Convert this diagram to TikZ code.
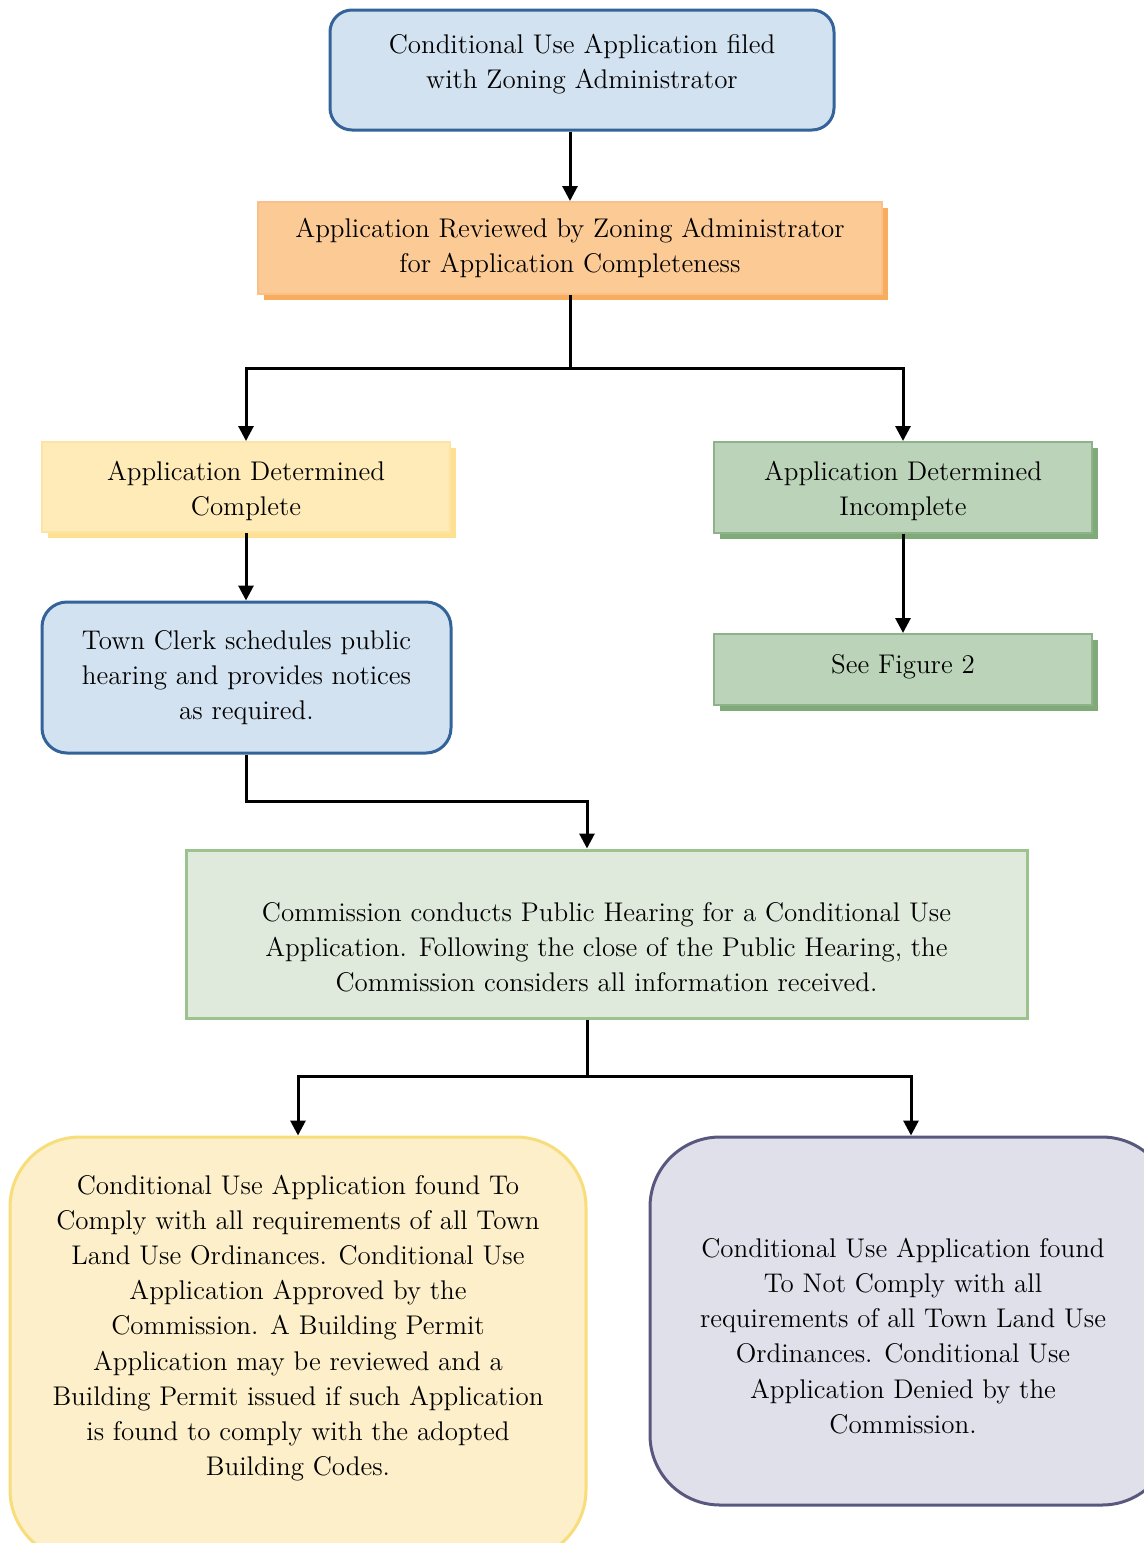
\documentclass[tikz,border=0pt]{standalone}
\usepackage{fontspec}
\usetikzlibrary{arrows.meta,shadows}
\definecolor{bluefill}{HTML}{D3E2F1}
\definecolor{blueline}{HTML}{34639A}
\definecolor{orfill}{HTML}{FCCA95}
\definecolor{orline}{HTML}{FAC08A}
\definecolor{orshadow}{HTML}{F8AD5C}
\definecolor{yefill}{HTML}{FFEBB7}
\definecolor{yeline}{HTML}{FDE4A2}
\definecolor{yeshadow}{HTML}{FDE092}
\definecolor{grfill}{HTML}{BBD3B8}
\definecolor{grline}{HTML}{8EB38A}
\definecolor{grshadow}{HTML}{80AB79}
\definecolor{lgfill}{HTML}{E0EADC}
\definecolor{lgline}{HTML}{9CC38F}
\definecolor{bigyefill}{HTML}{FCEFC9}
\definecolor{bigyeline}{HTML}{F8DD7B}
\definecolor{lavfill}{HTML}{E0E0EB}
\definecolor{lavline}{HTML}{58587F}
\begin{document}
\begin{tikzpicture}[x=0.5pt,y=-0.5pt,
  every node/.style={font=\fontsize{13.5}{17.6}\selectfont, align=center, inner sep=0pt},
  conn/.style={line width=1.5pt, black},
  arr/.style={conn, -{Triangle[width=7.5pt,length=7.5pt]}},
  roundblue/.style={draw=blueline, fill=bluefill, line width=1.5pt, rounded corners=11pt},
  shadowbox/.style={line width=1pt, drop shadow={shadow xshift=2.8pt, shadow yshift=-2.8pt, opacity=1, fill=#1}},
  orbox/.style={shadowbox=orshadow, draw=orline, fill=orfill},
  yebox/.style={shadowbox=yeshadow, draw=yeline, fill=yefill},
  grbox/.style={shadowbox=grshadow, draw=grline, fill=grfill},
  lgbox/.style={draw=lgline, fill=lgfill, line width=1.5pt},
  bigye/.style={draw=bigyeline, fill=bigyefill, line width=1.5pt, rounded corners=35pt},
  lav/.style={draw=lavline, fill=lavfill, line width=1.5pt, rounded corners=35pt}
]
\useasboundingbox (0,0) rectangle (1144,1543);
\clip (0,0) rectangle (1144,1543);

\node[roundblue, minimum width=252pt, minimum height=60pt] (b1) at (582,70) {};
\node (t1) at (582,64) {Conditional Use Application filed\\with Zoning Administrator};
\node[orbox, minimum width=312pt, minimum height=46pt] (b2) at (570,248)
  {Application Reviewed by Zoning Administrator\\for Application Completeness};
\node[yebox, minimum width=204pt, minimum height=45pt] (b3) at (246,487) {};
\node (t3) at (246,491) {Application Determined\\Complete};
\node[grbox, minimum width=189pt, minimum height=45.5pt] (b4) at (903,487.5) {};
\node (t4) at (903,491) {Application Determined\\Incomplete};
\node[grbox, minimum width=189pt, minimum height=35.5pt] (b5) at (903,669.5) {};
\node (t5) at (903,667) {See Figure 2};
\node[roundblue, rounded corners=12.5pt, minimum width=204.5pt, minimum height=75.5pt] (b6) at (246.5,677.5)
  {Town Clerk schedules public\\hearing and provides notices\\as required.};
\node[lgbox, minimum width=420.5pt, minimum height=84pt] (b7) at (606.5,934) {};
\node (t7) at (606.5,947)
  {Commission conducts Public Hearing for a Conditional Use\\Application. Following the close of the Public Hearing, the\\Commission considers all information received.};
\node[bigye, minimum width=288pt, minimum height=211.5pt] (b8) at (298,1348.5) {};
\node (t8) at (298,1328)
  {Conditional Use Application found To\\Comply with all requirements of all Town\\Land Use Ordinances. Conditional Use\\Application Approved by the\\Commission. A Building Permit\\Application may be reviewed and a\\Building Permit issued if such Application\\is found to comply with the adopted\\Building Codes.};
\node[lav, minimum width=261pt, minimum height=184pt] (b9) at (911,1321) {};
\node (t9) at (903,1336)
  {Conditional Use Application found\\To Not Comply with all\\requirements of all Town Land Use\\Ordinances. Conditional Use\\Application Denied by the\\Commission.};

\coordinate (j0) at (570,368);
\coordinate (j1) at (587,801);
\coordinate (j2) at (587,1076);

\draw[arr] (b1.south -| b2.north) -- (b2.north);
\draw[conn] (b2.south) -- (j0);
\draw[arr] (j0) -| (b3.north);
\draw[arr] (j0) -| (b4.north);
\draw[arr] (b4.south) -- (b5.north);
\draw[arr] (b3.south) -- (b3.south |- b6.north);
\draw[arr] (b6.south) |- (j1) -- (j1 |- b7.north);
\draw[conn] (j2 |- b7.south) -- (j2);
\draw[arr] (j2) -| (b8.north);
\draw[arr] (j2) -| (b9.north);
\end{tikzpicture}
\end{document}
